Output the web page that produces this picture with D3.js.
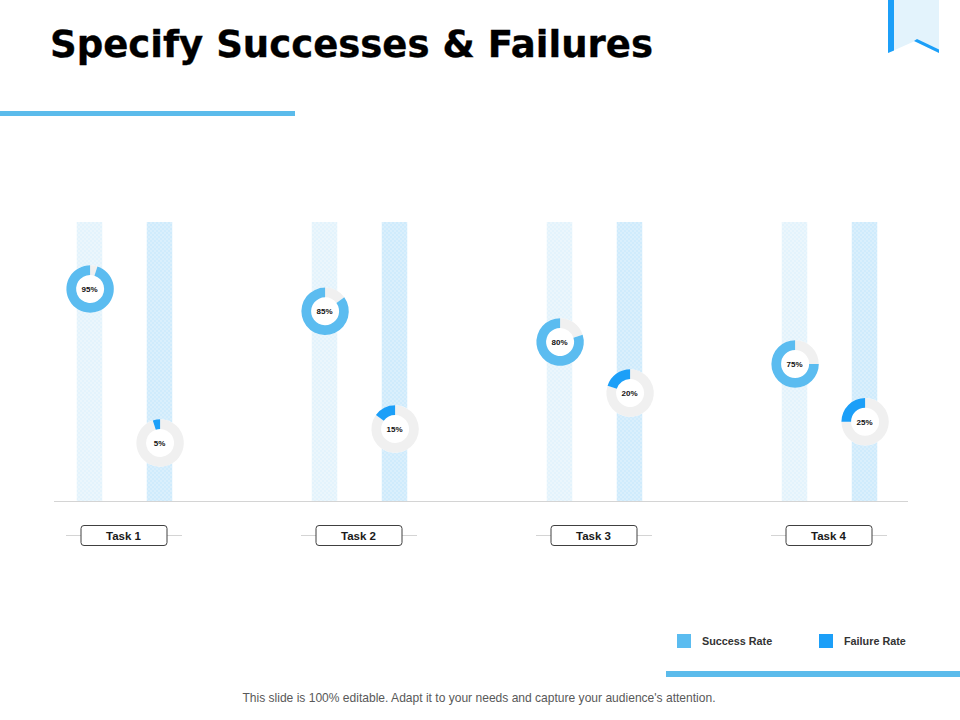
<!DOCTYPE html>
<html><head><meta charset="utf-8">
<script src="https://cdnjs.cloudflare.com/ajax/libs/d3/7.8.5/d3.min.js"></script>
<style>html,body{margin:0;padding:0;background:#fff}svg{display:block}text{font-family:"Liberation Sans",Arial,sans-serif}</style>
</head><body><svg id="c" width="960" height="720"></svg>
<script>
const tasks = ["Task 1","Task 2","Task 3","Task 4"];
const seriesNames = ["Success Rate","Failure Rate"];
const successRate = [95,85,80,75];
const failureRate = [5,15,20,25];
// height of each donut along its column (0-100 of column height)
const successLevel = [76,68,57,49.1];
const failureLevel = [20.8,25.8,38.7,28.4];
const title = "Specify Successes & Failures";
const footer = "This slide is 100% editable. Adapt it to your needs and capture your audience's attention.";
const colors = ["#5bbcf0","#1c9ff8"];

const svg = d3.select("#c");
const defs = svg.append("defs");
function pat(id,bg,dot){
  const p=defs.append("pattern").attr("id",id).attr("patternUnits","userSpaceOnUse").attr("width",4).attr("height",4);
  p.append("rect").attr("width",4).attr("height",4).attr("fill",bg);
  p.append("circle").attr("cx",1).attr("cy",1).attr("r",.8).attr("fill",dot);
  p.append("circle").attr("cx",3).attr("cy",3).attr("r",.8).attr("fill",dot);
}
pat("p0","#e3f3fc","#f6fbfe");
pat("p1","#cfebfc","#e8f6fe");

// header & furniture
svg.append("text").attr("x",50).attr("y",56.5).attr("font-size",37.05).attr("font-weight",700).attr("fill","#000")
  .attr("stroke","#000").attr("stroke-width",.35)
  .style("font-family","'DejaVu Sans',Verdana,sans-serif").text(title);
svg.append("rect").attr("x",0).attr("y",111).attr("width",295).attr("height",5).attr("fill","#5bbbeb");
svg.append("rect").attr("x",666).attr("y",671).attr("width",294).attr("height",6).attr("fill","#5bbbeb");
svg.append("path").attr("d","M888 0H939V53L915 41L888 53Z").attr("fill","#e3f3fc");
svg.append("path").attr("d","M888 0H894V50.5L888 53Z").attr("fill","#1c9ff8");
svg.append("path").attr("d","M917 39L939 49.5V53L914 41Z").attr("fill","#1c9ff8");
svg.append("text").attr("x",479).attr("y",702).attr("text-anchor","middle").attr("font-size",12.05).attr("fill","#595959").text(footer);

// scales
const x = d3.scalePoint().domain(tasks).range([124,829]);
const y = d3.scaleLinear().domain([0,100]).range([501,222]);
const offset = d3.scalePoint().domain([0,1]).range([-34.5,35.5]);
const colW = 25.5;
const arc = d3.arc().innerRadius(14).outerRadius(23.7);
const pie = d3.pie().sort(null).value(d=>d);

const rows = tasks.map((t,i)=>[
  {t,s:0,v:successRate[i],l:successLevel[i]},
  {t,s:1,v:failureRate[i],l:failureLevel[i]}]).flat();

svg.selectAll("rect.col").data(rows).join("rect").attr("class","col")
  .attr("x",d=>x(d.t)+offset(d.s)-colW/2).attr("y",y(100)).attr("width",colW)
  .attr("height",y(0)-y(100)).attr("fill",d=>`url(#p${d.s})`);

// baseline
svg.append("line").attr("x1",54).attr("x2",908).attr("y1",y(0)+.5).attr("y2",y(0)+.5).attr("stroke","#d4d4d4");

// donuts
const g = svg.selectAll("g.donut").data(rows).join("g").attr("class","donut")
  .attr("transform",d=>`translate(${x(d.t)+offset(d.s)+.6},${y(d.l)})`);
g.append("circle").attr("r",23.7).attr("fill","#fff");
g.selectAll("path").data(d=>pie([100-d.v,d.v]).map(a=>({a,s:d.s}))).join("path")
  .attr("d",d=>arc(d.a)).attr("fill",(d)=>d.a.index===0?"#f0f0f0":colors[d.s]);
g.append("text").attr("x",-.6).attr("y",3).attr("text-anchor","middle").attr("font-size",8).attr("font-weight",700).attr("fill","#111").text(d=>d.v+"%");

// task labels
const lab = svg.selectAll("g.task").data(tasks).join("g").attr("class","task").attr("transform",d=>`translate(${x(d)},535.5)`);
lab.append("line").attr("x1",-58).attr("x2",58).attr("stroke","#d4d4d4");
lab.append("rect").attr("x",-43).attr("y",-10).attr("width",86).attr("height",20).attr("rx",3).attr("fill","#fff").attr("stroke","#404040");
lab.append("text").attr("x",-.5).attr("y",4).attr("text-anchor","middle").attr("font-size",11.5).attr("font-weight",700).attr("fill","#1a1a1a").text(d=>d);

// legend
const lx = d3.scalePoint().domain(seriesNames).range([677,819]);
const leg = svg.selectAll("g.leg").data(seriesNames).join("g").attr("class","leg").attr("transform",d=>`translate(${lx(d)},634)`);
leg.append("rect").attr("width",14).attr("height",14).attr("fill",(d,i)=>colors[i]);
leg.append("text").attr("x",25).attr("y",11).attr("font-size",10.8).attr("font-weight",700).attr("fill","#333").text(d=>d);
</script></body></html>
